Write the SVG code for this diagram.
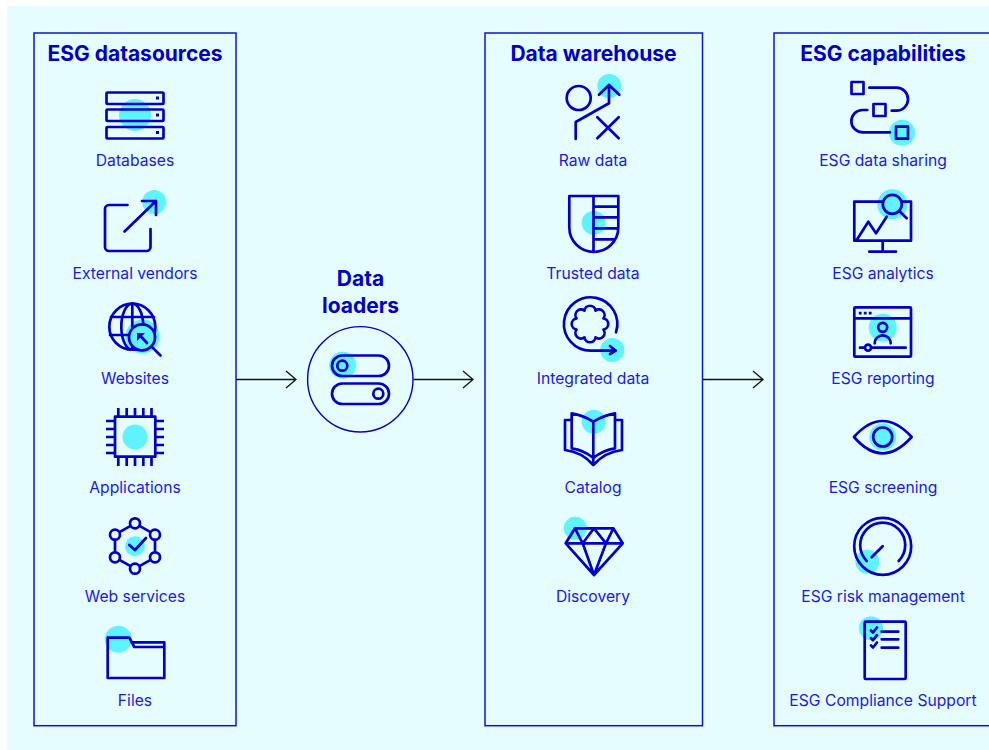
<svg xmlns="http://www.w3.org/2000/svg" width="989" height="750" viewBox="0 0 989 750">
<style>
.p{fill:none;stroke:#0a14d8;stroke-width:1.5}
.h{fill:#5ff2ff}
.s{fill:none;stroke:#0000c8;stroke-width:2.7;stroke-linecap:round;stroke-linejoin:round}
.t{font-family:"Inter","Liberation Sans",sans-serif;font-size:15.7px;fill:#1a1ae0;text-anchor:middle}
.b{font-family:"Inter","Liberation Sans",sans-serif;font-size:21px;font-weight:700;fill:#0000c8;text-anchor:middle}
.a{fill:none;stroke:#111;stroke-width:1.3}
</style>
<rect width="989" height="750" fill="#fff"/>
<rect x="7" y="6" width="982" height="744" fill="#e6fdff"/>
<g id="panels">
<rect class="p" x="34" y="33" width="202" height="692.700"/>
<rect class="p" x="485" y="33" width="217.500" height="692.700"/>
<rect class="p" x="774" y="33" width="220" height="692.700"/>
<text class="b" x="135" y="60.700">ESG datasources</text>
<text class="b" x="593.500" y="60.700">Data warehouse</text>
<text class="b" x="883" y="60.700">ESG capabilities</text>
</g>
<g id="connectors">
<path class="a" d="M236 379.500H296M286 371l10 8.500-10 8.500"/>
<path class="a" d="M413.500 379.500H473M463 371l10 8.500-10 8.500"/>
<path class="a" d="M703 379.500H763M753 371l10 8.500-10 8.500"/>
</g>
<g id="databases">
<circle class="h" cx="135" cy="115" r="16"/>
<rect class="s" x="106.500" y="92.500" width="57" height="11.500" rx="1"/>
<rect class="s" x="106.500" y="109.500" width="57" height="11.500" rx="1"/>
<rect class="s" x="106.500" y="127" width="57" height="11.500" rx="1"/>
<path d="M156 96.500h3v3h-3zM156 113.500h3v3h-3zM156 131h3v3h-3z" fill="#0000c8"/>
<text class="t" x="135" y="166">Databases</text>
</g>
<g id="external-vendors">
<circle class="h" cx="154.300" cy="202" r="12"/>
<path class="s" d="M127.500 205H109a4 4 0 0 0-4 4V247a4 4 0 0 0 4 4H146.500a4 4 0 0 0 4-4V229"/>
<path class="s" d="M124.500 231.500L156 201M142 201H156V215"/>
<text class="t" x="135" y="279">External vendors</text>
</g>
<g id="websites">
<circle class="h" cx="142.500" cy="336.500" r="17"/>
<circle class="s" cx="132.300" cy="326.700" r="23"/>
<ellipse class="s" cx="132.300" cy="326.700" rx="11" ry="23"/>
<path class="s" d="M132.300 303.700V349M111 317H154M110 335H129"/>
<circle class="s" cx="142" cy="337.300" r="13" style="fill:#5ff2ff"/>
<path class="s" d="M151.500 346.500L160.500 355.500M147 343L140.500 336"/>
<path d="M137 333h8l-2.500 2.500-3 3-2.500 2.500z" fill="#0000c8"/>
<text class="t" x="135" y="384">Websites</text>
</g>
<g id="applications">
<circle class="h" cx="135" cy="437" r="12.500"/>
<rect class="s" x="115" y="416.700" width="40.300" height="40"/>
<path class="s" style="stroke-linecap:butt" d="M118.300 408V416M126.700 408V416M135 408V416M143.300 408V416M151.500 408V416M118.300 457V466M126.700 457V466M135 457V466M143.300 457V466M151.500 457V466M106 421H115M106 429H115M106 437H115M106 445H115M106 453H115M155.500 421H164M155.500 429H164M155.500 437H164M155.500 445H164M155.500 453H164"/>
<text class="t" x="135" y="493">Applications</text>
</g>
<g id="web-services">
<circle class="h" cx="135" cy="546.300" r="10"/>
<path class="s" d="M135 523.300L155 534.700V557.300L135 568.700L115 557.300V534.700Z"/>
<circle class="s" style="fill:#e6fdff" cx="135" cy="523.300" r="5"/>
<circle class="s" style="fill:#e6fdff" cx="155" cy="534.700" r="5"/>
<circle class="s" style="fill:#e6fdff" cx="155" cy="557.300" r="5"/>
<circle class="s" style="fill:#e6fdff" cx="135" cy="568.700" r="5"/>
<circle class="s" style="fill:#e6fdff" cx="115" cy="557.300" r="5"/>
<circle class="s" style="fill:#e6fdff" cx="115" cy="534.700" r="5"/>
<path class="s" d="M129.300 545L135 550L146 538"/>
<text class="t" x="135" y="602">Web services</text>
</g>
<g id="files">
<circle class="h" cx="118.300" cy="639.300" r="13.500"/>
<path class="s" d="M107.700 637.700H129.300L134.300 647H164.300V678H107.700ZM131.500 642.300H164.300V647"/>
<text class="t" x="135" y="706">Files</text>
</g>
<g id="data-loaders">
<text class="b" x="360.500" y="286">Data</text>
<text class="b" x="360.500" y="312.700">loaders</text>
<circle cx="360.300" cy="379.300" r="52.700" fill="none" stroke="#0000c8" stroke-width="1.4"/>
<circle class="h" cx="342.700" cy="365.300" r="13.500"/>
<rect class="s" x="332" y="355.500" width="57" height="20.500" rx="10.250"/>
<rect class="s" x="332" y="383.500" width="57" height="20.500" rx="10.250"/>
<circle class="s" cx="342.300" cy="365.700" r="5"/>
<circle class="s" cx="378.300" cy="393.700" r="5"/>
</g>
<g id="raw-data">
<circle class="h" cx="609.300" cy="86" r="12"/>
<circle class="s" cx="578.700" cy="98" r="12"/>
<path class="s" d="M575.700 139V122L609 103.300V85M599 94.700L609 85L619.300 94.700M597.300 117.300L618.700 138.300M618.700 117.300L597.300 138.300"/>
<text class="t" x="593" y="166">Raw data</text>
</g>
<g id="trusted-data">
<circle class="h" cx="593.700" cy="222.700" r="12"/>
<path class="s" d="M569.300 196H618.300V227.500A24.500 24.500 0 0 1 569.300 227.500ZM593.500 196V251.700M593.500 206.700H618.300M593.500 217.300H618.300M593.500 228.300H618.300M593.500 239.300H614"/>
<text class="t" x="593" y="279">Trusted data</text>
</g>
<g id="integrated-data">
<circle class="h" cx="612.300" cy="350" r="12"/>
<path class="s" d="M616 332.300A26.700 26.700 0 1 0 590.700 350.700H615.700M610 346L615.700 350.700L610 354"/>
<path class="s" d="M603.400 329.550a5.600 5.600 0 0 0 0-11.100a5.600 5.600 0 0 0-7.850-7.850a5.600 5.600 0 0 0-11.100 0a5.600 5.600 0 0 0-7.850 7.850a5.600 5.600 0 0 0 0 11.100a5.600 5.600 0 0 0 7.850 7.850a5.600 5.600 0 0 0 11.100 0a5.600 5.600 0 0 0 7.850-7.850z"/>
<text class="t" x="593" y="384">Integrated data</text>
</g>
<g id="catalog">
<circle class="h" cx="593.700" cy="421.700" r="12"/>
<path class="s" d="M593.300 421.700Q583 415 571.700 413.300V448.300Q584 450 593.300 458V421.700Q604 415 615 413.300V448.300Q603 450 593.300 458M571.700 420H565V450Q582 452 593.300 465Q605 452 622 450V420H615M593.300 458V465"/>
<text class="t" x="593" y="493">Catalog</text>
</g>
<g id="discovery">
<circle class="h" cx="575.300" cy="528.300" r="11.500"/>
<path class="s" d="M575 528.300H613.300L622.700 543.300L594 575L565.700 543.300ZM565.700 543.300H622.700M575 528.300L582.700 543.300L594 528.300L606 543.300L613.300 528.300M582.700 543.300L594 575L606 543.300"/>
<text class="t" x="593" y="602">Discovery</text>
</g>
<g id="esg-data-sharing">
<circle class="h" cx="902" cy="132.700" r="13"/>
<rect class="s" x="851.500" y="82" width="12" height="12"/>
<rect class="s" x="873.500" y="104" width="12" height="12"/>
<rect class="s" x="896" y="126.700" width="12" height="12"/>
<path class="s" d="M869.300 87.700H896.500A11.500 11.500 0 0 1 896.500 110.700H891.700M867.300 110H862.500A11 11 0 0 0 862.500 132.300H890"/>
<text class="t" x="883" y="166">ESG data sharing</text>
</g>
<g id="esg-analytics">
<circle class="h" cx="892.300" cy="204.300" r="15"/>
<path class="s" d="M882.500 201.700H854.300V240.700H911V201.700H902.500M882.700 240.700V251.700M869.300 251.700H896M856.700 240L868.300 221.700L876 233.300L886.700 216.700M900 211.700L906.700 218.300"/>
<circle class="s" cx="892.300" cy="204.300" r="9.500"/>
<text class="t" x="883" y="279">ESG analytics</text>
</g>
<g id="esg-reporting">
<circle class="h" cx="882.700" cy="327.700" r="14"/>
<rect class="s" x="854.300" y="307.300" width="56.700" height="49.400" rx="1"/>
<path class="s" d="M854.300 318.300H911M874.700 343.300A8 8 0 0 1 890.700 343.300M860 347.700H905.700"/>
<path d="M858.800 311.800h2.800v2.800H858.800zM863.800 311.800h2.800v2.800H863.800zM868.800 311.800h2.800v2.800H868.800z" fill="#0000c8"/>
<circle class="s" cx="882.700" cy="327.300" r="4.500"/>
<circle class="s" style="fill:#e6fdff" cx="868" cy="347.700" r="3"/>
<text class="t" x="883" y="384">ESG reporting</text>
</g>
<g id="esg-screening">
<circle class="h" cx="882.700" cy="437" r="13.500"/>
<path class="s" d="M854 437Q868 421 882.700 421Q897 421 911.700 437Q897 453.300 882.700 453.300Q868 453.300 854 437Z"/>
<circle class="s" cx="882.700" cy="437" r="9.500"/>
<text class="t" x="883" y="493">ESG screening</text>
</g>
<g id="esg-risk-management">
<circle class="h" cx="867.300" cy="561.700" r="12"/>
<circle class="s" cx="882.700" cy="546.300" r="28.500"/>
<path class="s" d="M866.700 561A22.500 22.500 0 1 1 898.700 561M871.700 557.300L882.700 546.300"/>
<text class="t" x="883" y="602">ESG risk management</text>
</g>
<g id="esg-compliance-support">
<circle class="h" cx="871" cy="628.300" r="12"/>
<rect class="s" x="864.700" y="621.700" width="41" height="57.300" rx="1"/>
<path class="s" d="M881.700 631.700H898.300M881.700 639.300H898.300M881.700 647.700H898.300M871 630.500L873 632.500L877 627.500M871 638.200L873 640.200L877 635.200M871 645.500L873 647.500L877 642.500"/>
<text class="t" x="883" y="706">ESG Compliance Support</text>
</g>
</svg>
